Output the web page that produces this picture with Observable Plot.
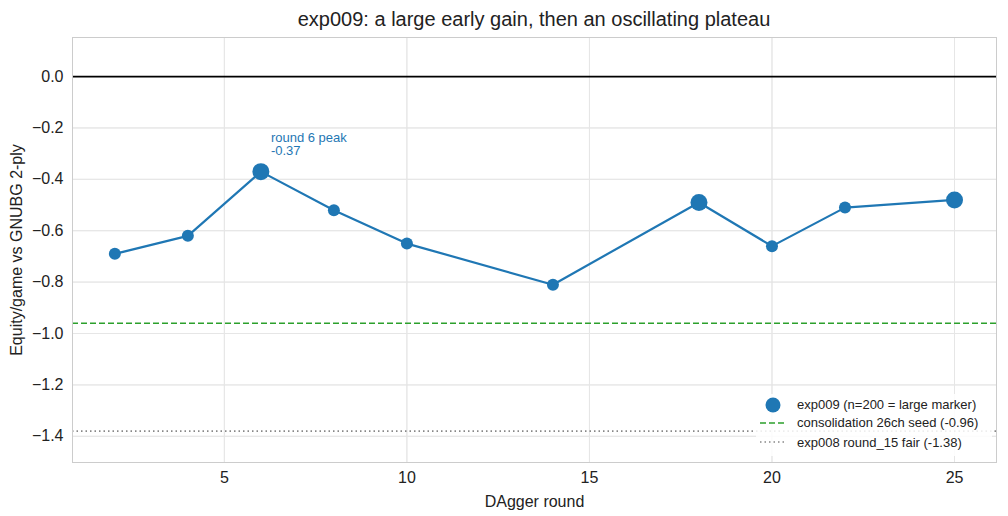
<!DOCTYPE html>
<html><head><meta charset="utf-8">
<script src="https://cdn.jsdelivr.net/npm/d3@7"></script>
<script src="https://cdn.jsdelivr.net/npm/@observablehq/plot@0.6"></script>
<style>
body{margin:0;background:#fff;font-family:"Liberation Sans",sans-serif;}
#wrap{position:relative;width:1008px;height:516px;}
#title{position:absolute;top:8px;left:72px;width:924px;text-align:center;font-size:20px;color:#222;}
#legend{position:absolute;left:756px;top:394px;width:236px;height:62px;background:rgba(255,255,255,0.85);font-size:13px;color:#222;}
.row{position:absolute;left:41px;white-space:nowrap;}
</style></head><body>
<div id="wrap"><div id="chart"></div>
<div id="title">exp009: a large early gain, then an oscillating plateau</div>
<div id="legend">
<svg width="40" height="62" style="position:absolute;left:0;top:0">
<circle cx="17" cy="11" r="7.5" fill="#1f77b4"/>
<line x1="4" x2="30" y1="29" y2="29" stroke="#2ca02c" stroke-width="1.6" stroke-dasharray="6,3"/>
<line x1="4" x2="30" y1="48" y2="48" stroke="#888" stroke-width="1.6" stroke-dasharray="1.5,3"/>
</svg>
<div class="row" style="top:3px">exp009 (n=200 = large marker)</div>
<div class="row" style="top:21px">consolidation 26ch seed (-0.96)</div>
<div class="row" style="top:41px">exp008 round_15 fair (-1.38)</div>
</div></div>
<script>
const rounds = [2,4,6,8,10,14,18,20,22,25];
const equity = [-0.69,-0.62,-0.37,-0.52,-0.65,-0.81,-0.49,-0.66,-0.51,-0.48];
const large = [false,false,true,false,false,false,true,false,false,true];
const xTicks = [5,10,15,20,25];
const yTicks = [0,-0.2,-0.4,-0.6,-0.8,-1.0,-1.2,-1.4];
const seedLine = -0.96, exp008Line = -1.38;
const data = rounds.map((r,i)=>({r, v:equity[i], big:large[i]}));
const fmt = d => (d<0?"\u2212":"") + Math.abs(d).toFixed(1);
const chart = Plot.plot({
  width:1008, height:516, marginTop:37, marginLeft:72, marginRight:12, marginBottom:54,
  style:{fontSize:"16px", fontFamily:"Liberation Sans, sans-serif", color:"#222"},
  x:{domain:[0.84,26.15], ticks:xTicks, label:"DAgger round", labelAnchor:"center", labelArrow:false, tickSize:0, labelOffset:44, grid:true},
  y:{domain:[-1.502,0.152], ticks:yTicks, tickFormat:fmt, label:"Equity/game vs GNUBG 2-ply", labelAnchor:"center", labelArrow:false, tickSize:0, labelOffset:62, grid:true},
  marks:[
    Plot.gridX(xTicks,{stroke:"#e6e6e6", strokeOpacity:1}),
    Plot.gridY(yTicks,{stroke:"#e6e6e6", strokeOpacity:1}),
    Plot.ruleY([0],{stroke:"black", strokeWidth:1.8}),
    Plot.ruleY([seedLine],{stroke:"#2ca02c", strokeWidth:1.6, strokeDasharray:"6,3"}),
    Plot.ruleY([exp008Line],{stroke:"#888", strokeWidth:1.6, strokeDasharray:"1.5,3"}),
    Plot.line(data,{x:"r", y:"v", stroke:"#1f77b4", strokeWidth:2.2}),
    Plot.dot(data.filter(d=>!d.big),{x:"r", y:"v", r:6, fill:"#1f77b4"}),
    Plot.dot(data.filter(d=>d.big),{x:"r", y:"v", r:8.5, fill:"#1f77b4"}),
    Plot.text([data[2]],{x:"r", y:"v", text:d=>"round 6 peak\n"+d.v.toFixed(2), textAnchor:"start", dx:10, dy:-17, lineAnchor:"bottom", fill:"#1f77b4", fontSize:13, lineHeight:1.0}),
    Plot.frame({stroke:"#ccc"})
  ]
});
document.getElementById("chart").appendChild(chart);
</script></body></html>
